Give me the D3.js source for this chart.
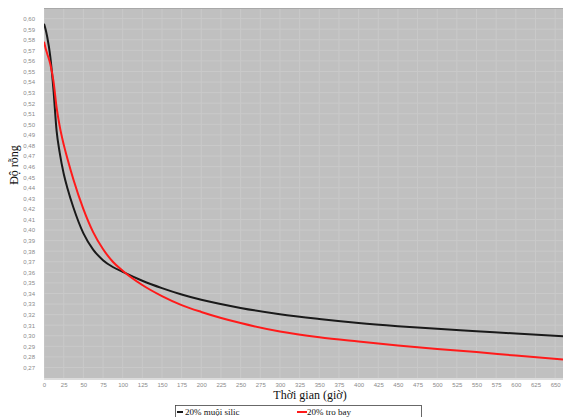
<!DOCTYPE html>
<html lang="vi">
<head>
  <meta charset="UTF-8">
  <title>Độ rỗng theo thời gian</title>
  <script src="https://d3js.org/d3.v7.min.js"></script>
  <style>
    body { margin: 0; background: #fff; }
    svg { display: block; font-family: "Liberation Serif", "DejaVu Serif", serif; }
    .tick-label { font-size: 6px; fill: #8a8a8a; }
    .axis-title { font-size: 12px; fill: #111; }
    .legend text { font-size: 9px; fill: #111; }
  </style>
</head>
<body>
<svg width="563" height="417"></svg>
<script>
  // thời gian (giờ)
  const time = [0, 2, 4, 8, 12, 16, 20, 25, 30, 37.5, 50, 62.5, 75, 87.5, 100,
                125, 150, 175, 200, 250, 300, 350, 400, 450, 500, 550, 600, 660];
  // 20% muội silic
  const silica = [0.595, 0.590, 0.583, 0.564, 0.533, 0.494, 0.473, 0.4535, 0.439, 0.421, 0.397, 0.3815, 0.3715, 0.365, 0.3605,
                  0.352, 0.345, 0.339, 0.334, 0.3263, 0.3203, 0.3158, 0.312, 0.309, 0.3065, 0.3043, 0.302, 0.2995];
  // 20% tro bay
  const flyash = [0.578, 0.572, 0.567, 0.557, 0.541, 0.516, 0.498, 0.481, 0.467, 0.4475, 0.420, 0.398, 0.382, 0.370, 0.3615,
                  0.348, 0.3375, 0.329, 0.3225, 0.312, 0.304, 0.2985, 0.2945, 0.2908, 0.2875, 0.2845, 0.2812, 0.2775];

  const xTicks = d3.range(0, 651, 25);
  const yTicks = d3.range(27, 61).map(d => d / 100);

  const series = [
    {name: "20% muội silic", color: "#1a1a1a", values: silica},
    {name: "20% tro bay", color: "#ff1a1a", values: flyash}
  ];

  const svg = d3.select("svg");
  const plot = {left: 44, right: 563, top: 8, bottom: 378};

  const x = d3.scaleLinear().domain([0, 660]).range([plot.left, plot.right]);
  const y = d3.scaleLinear().domain([0.26, 0.61]).range([plot.bottom, plot.top]);

  svg.append("clipPath").attr("id", "clip")
    .append("rect")
      .attr("x", plot.left).attr("y", plot.top)
      .attr("width", plot.right - plot.left).attr("height", plot.bottom - plot.top);

  // plot background
  svg.append("rect")
    .attr("x", plot.left).attr("y", plot.top)
    .attr("width", plot.right - plot.left).attr("height", plot.bottom - plot.top)
    .attr("fill", "#c0c0c0");

  // grid
  const grid = svg.append("g").attr("clip-path", "url(#clip)");
  grid.selectAll(".vg").data(xTicks).join("line")
    .attr("x1", d => x(d)).attr("x2", d => x(d))
    .attr("y1", plot.top).attr("y2", plot.bottom)
    .attr("stroke", "#c9c9c9").attr("stroke-width", 1);
  grid.selectAll(".hg").data(yTicks).join("line")
    .attr("x1", plot.left).attr("x2", plot.right)
    .attr("y1", d => y(d)).attr("y2", d => y(d))
    .attr("stroke", "#c9c9c9").attr("stroke-width", 1);

  // top / bottom edges of the plot
  svg.append("line")
    .attr("x1", plot.left).attr("x2", plot.right)
    .attr("y1", plot.top + 0.5).attr("y2", plot.top + 0.5)
    .attr("stroke", "#a8a8a8");
  svg.append("line")
    .attr("x1", plot.left).attr("x2", plot.right)
    .attr("y1", plot.bottom + 1).attr("y2", plot.bottom + 1)
    .attr("stroke", "#dcdcdc").attr("stroke-width", 2);

  const comma = v => d3.format(".2f")(v).replace(".", ",");

  // y axis labels
  const yAxis = svg.append("g")
    .attr("transform", `translate(${plot.left - 9},0)`)
    .call(d3.axisLeft(y).tickValues(yTicks).tickFormat(comma).tickSize(0).tickPadding(0));
  yAxis.select(".domain").remove();
  yAxis.selectAll("text").attr("class", "tick-label").attr("fill", null)
    .style("font-family", "inherit");

  // x axis labels
  const xAxis = svg.append("g")
    .attr("transform", `translate(0,${plot.bottom + 5})`)
    .call(d3.axisBottom(x).tickValues(xTicks).tickFormat(d3.format("d")).tickSize(0).tickPadding(0));
  xAxis.select(".domain").remove();
  xAxis.selectAll("text").attr("class", "tick-label").attr("fill", null)
    .style("font-family", "inherit");

  // lines
  const line = d3.line()
    .x((d, i) => x(time[i]))
    .y(d => y(d))
    .curve(d3.curveMonotoneX);

  svg.append("g").attr("clip-path", "url(#clip)")
    .selectAll("path").data(series).join("path")
      .attr("d", d => line(d.values))
      .attr("fill", "none")
      .attr("stroke", d => d.color)
      .attr("stroke-width", 2);

  // axis titles
  svg.append("text").attr("class", "axis-title")
    .attr("x", 310).attr("y", 399)
    .attr("text-anchor", "middle")
    .text("Thời gian (giờ)");

  svg.append("text").attr("class", "axis-title")
    .attr("transform", "translate(18,165) rotate(-90)")
    .attr("text-anchor", "middle")
    .text("Độ rỗng");

  // legend
  const legend = svg.append("g").attr("class", "legend");
  legend.append("rect")
    .attr("x", 175.5).attr("y", 405.5)
    .attr("width", 246).attr("height", 20)
    .attr("fill", "#fff").attr("stroke", "#444").attr("stroke-width", 0.8);

  const legendX = [177, 297];
  const items = legend.selectAll(".item").data(series).join("g")
    .attr("transform", (d, i) => `translate(${legendX[i]},412)`);
  items.append("line")
    .attr("x1", 0).attr("x2", (d, i) => i === 0 ? 6 : 10)
    .attr("y1", 0).attr("y2", 0)
    .attr("stroke", d => d.color).attr("stroke-width", 2);
  items.append("text")
    .attr("x", (d, i) => i === 0 ? 8 : 10).attr("y", 3)
    .text(d => d.name);
</script>
</body>
</html>
